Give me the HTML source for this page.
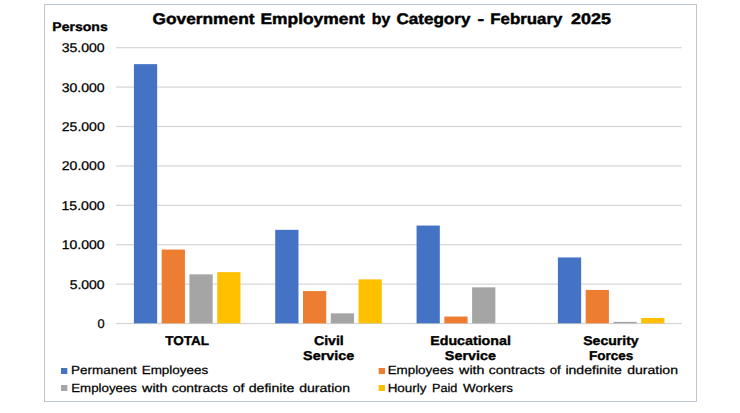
<!DOCTYPE html>
<html><head><meta charset="utf-8"><style>
html,body{margin:0;padding:0;background:#fff;width:740px;height:413px;overflow:hidden}
svg{display:block;font-family:"Liberation Sans", sans-serif}
text{fill:#000;text-rendering:geometricPrecision}
</style></head><body>
<svg width="740" height="413" viewBox="0 0 740 413">
<rect x="0" y="0" width="740" height="413" fill="#ffffff"/>
<rect x="44.5" y="4.5" width="652" height="397" fill="none" stroke="#BDC5CE" stroke-width="1"/>
<rect x="116" y="322.95" width="565.8" height="1.2" fill="#D3D3D3"/>
<rect x="116" y="283.54" width="565.8" height="1.2" fill="#D5D5D5"/>
<rect x="116" y="244.13" width="565.8" height="1.2" fill="#D5D5D5"/>
<rect x="116" y="204.72" width="565.8" height="1.2" fill="#D5D5D5"/>
<rect x="116" y="165.31" width="565.8" height="1.2" fill="#D5D5D5"/>
<rect x="116" y="125.90" width="565.8" height="1.2" fill="#D5D5D5"/>
<rect x="116" y="86.49" width="565.8" height="1.2" fill="#D5D5D5"/>
<rect x="116" y="47.08" width="565.8" height="1.2" fill="#D5D5D5"/>
<rect x="133.90" y="64.15" width="23.25" height="259.15" fill="#4472C4"/>
<rect x="161.67" y="249.55" width="23.25" height="73.75" fill="#ED7D31"/>
<rect x="189.44" y="274.35" width="23.25" height="48.95" fill="#A5A5A5"/>
<rect x="217.21" y="272.15" width="23.25" height="51.15" fill="#FFC000"/>
<rect x="275.23" y="229.85" width="23.25" height="93.45" fill="#4472C4"/>
<rect x="303.00" y="291.05" width="23.25" height="32.25" fill="#ED7D31"/>
<rect x="330.77" y="313.35" width="23.25" height="9.95" fill="#A5A5A5"/>
<rect x="358.54" y="279.35" width="23.25" height="43.95" fill="#FFC000"/>
<rect x="416.56" y="225.55" width="23.25" height="97.75" fill="#4472C4"/>
<rect x="444.33" y="316.55" width="23.25" height="6.75" fill="#ED7D31"/>
<rect x="472.10" y="287.35" width="23.25" height="35.95" fill="#A5A5A5"/>
<rect x="557.89" y="257.45" width="23.25" height="65.85" fill="#4472C4"/>
<rect x="585.66" y="289.95" width="23.25" height="33.35" fill="#ED7D31"/>
<rect x="613.43" y="321.85" width="23.25" height="1.45" fill="#A5A5A5"/>
<rect x="641.20" y="317.95" width="23.25" height="5.35" fill="#FFC000"/>
<rect x="61" y="368" width="6.3" height="6" fill="#4472C4"/>
<rect x="61" y="385" width="6.3" height="6" fill="#A5A5A5"/>
<rect x="378.7" y="368" width="6.3" height="6" fill="#ED7D31"/>
<rect x="378.7" y="385" width="6.3" height="6" fill="#FFC000"/>
<text x="152.50" y="24.00" font-size="15.3" font-weight="bold" stroke="#000" stroke-width="0.45" textLength="101.99" lengthAdjust="spacingAndGlyphs">Government</text>
<text x="260.53" y="24.00" font-size="15.3" font-weight="bold" stroke="#000" stroke-width="0.45" textLength="104.29" lengthAdjust="spacingAndGlyphs">Employment</text>
<text x="371.77" y="24.00" font-size="15.3" font-weight="bold" stroke="#000" stroke-width="0.45" textLength="18.47" lengthAdjust="spacingAndGlyphs">by</text>
<text x="396.54" y="24.00" font-size="15.3" font-weight="bold" stroke="#000" stroke-width="0.45" textLength="73.86" lengthAdjust="spacingAndGlyphs">Category</text>
<text x="477.60" y="24.00" font-size="15.3" font-weight="bold" stroke="#000" stroke-width="0.45" textLength="6.68" lengthAdjust="spacingAndGlyphs">-</text>
<text x="490.32" y="24.00" font-size="15.3" font-weight="bold" stroke="#000" stroke-width="0.45" textLength="71.99" lengthAdjust="spacingAndGlyphs">February</text>
<text x="571.03" y="24.00" font-size="15.3" font-weight="bold" stroke="#000" stroke-width="0.45" textLength="39.90" lengthAdjust="spacingAndGlyphs">2025</text>
<text x="52.33" y="31.00" font-size="12.4" font-weight="bold" stroke="#000" stroke-width="0.35" textLength="55.39" lengthAdjust="spacingAndGlyphs">Persons</text>
<text x="97.54" y="327.95" font-size="12.6" stroke="#000" stroke-width="0.25" textLength="7.13" lengthAdjust="spacingAndGlyphs">0</text>
<text x="69.73" y="288.80" font-size="12.6" stroke="#000" stroke-width="0.25" textLength="34.91" lengthAdjust="spacingAndGlyphs">5.000</text>
<text x="61.77" y="249.10" font-size="12.6" stroke="#000" stroke-width="0.25" textLength="42.83" lengthAdjust="spacingAndGlyphs">10.000</text>
<text x="61.41" y="209.75" font-size="12.6" stroke="#000" stroke-width="0.25" textLength="43.26" lengthAdjust="spacingAndGlyphs">15.000</text>
<text x="61.79" y="170.10" font-size="12.6" stroke="#000" stroke-width="0.25" textLength="42.96" lengthAdjust="spacingAndGlyphs">20.000</text>
<text x="61.79" y="130.75" font-size="12.6" stroke="#000" stroke-width="0.25" textLength="42.96" lengthAdjust="spacingAndGlyphs">25.000</text>
<text x="61.68" y="91.60" font-size="12.6" stroke="#000" stroke-width="0.25" textLength="43.03" lengthAdjust="spacingAndGlyphs">30.000</text>
<text x="61.68" y="51.70" font-size="12.6" stroke="#000" stroke-width="0.25" textLength="43.03" lengthAdjust="spacingAndGlyphs">35.000</text>
<text x="165.27" y="345.00" font-size="12.8" font-weight="bold" stroke="#000" stroke-width="0.35" textLength="43.81" lengthAdjust="spacingAndGlyphs">TOTAL</text>
<text x="313.98" y="345.00" font-size="12.8" font-weight="bold" stroke="#000" stroke-width="0.35" textLength="29.79" lengthAdjust="spacingAndGlyphs">Civil</text>
<text x="303.13" y="360.00" font-size="12.8" font-weight="bold" stroke="#000" stroke-width="0.35" textLength="51.14" lengthAdjust="spacingAndGlyphs">Service</text>
<text x="430.28" y="345.00" font-size="12.8" font-weight="bold" stroke="#000" stroke-width="0.35" textLength="80.59" lengthAdjust="spacingAndGlyphs">Educational</text>
<text x="444.89" y="360.00" font-size="12.8" font-weight="bold" stroke="#000" stroke-width="0.35" textLength="51.02" lengthAdjust="spacingAndGlyphs">Service</text>
<text x="583.21" y="345.00" font-size="12.8" font-weight="bold" stroke="#000" stroke-width="0.35" textLength="55.43" lengthAdjust="spacingAndGlyphs">Security</text>
<text x="588.91" y="360.00" font-size="12.8" font-weight="bold" stroke="#000" stroke-width="0.35" textLength="44.35" lengthAdjust="spacingAndGlyphs">Forces</text>
<text x="71.05" y="374.20" font-size="11.8" stroke="#000" stroke-width="0.25" textLength="65.83" lengthAdjust="spacingAndGlyphs">Permanent</text>
<text x="141.66" y="374.20" font-size="11.8" stroke="#000" stroke-width="0.25" textLength="66.55" lengthAdjust="spacingAndGlyphs">Employees</text>
<text x="71.22" y="391.60" font-size="11.8" stroke="#000" stroke-width="0.25" textLength="65.80" lengthAdjust="spacingAndGlyphs">Employees</text>
<text x="142.11" y="391.60" font-size="11.8" stroke="#000" stroke-width="0.25" textLength="25.39" lengthAdjust="spacingAndGlyphs">with</text>
<text x="171.72" y="391.60" font-size="11.8" stroke="#000" stroke-width="0.25" textLength="56.13" lengthAdjust="spacingAndGlyphs">contracts</text>
<text x="232.81" y="391.60" font-size="11.8" stroke="#000" stroke-width="0.25" textLength="11.66" lengthAdjust="spacingAndGlyphs">of</text>
<text x="248.67" y="391.60" font-size="11.8" stroke="#000" stroke-width="0.25" textLength="45.67" lengthAdjust="spacingAndGlyphs">definite</text>
<text x="299.18" y="391.60" font-size="11.8" stroke="#000" stroke-width="0.25" textLength="50.81" lengthAdjust="spacingAndGlyphs">duration</text>
<text x="387.67" y="374.20" font-size="11.8" stroke="#000" stroke-width="0.25" textLength="66.11" lengthAdjust="spacingAndGlyphs">Employees</text>
<text x="459.11" y="374.20" font-size="11.8" stroke="#000" stroke-width="0.25" textLength="25.39" lengthAdjust="spacingAndGlyphs">with</text>
<text x="488.73" y="374.20" font-size="11.8" stroke="#000" stroke-width="0.25" textLength="56.20" lengthAdjust="spacingAndGlyphs">contracts</text>
<text x="549.74" y="374.20" font-size="11.8" stroke="#000" stroke-width="0.25" textLength="11.01" lengthAdjust="spacingAndGlyphs">of</text>
<text x="565.41" y="374.20" font-size="11.8" stroke="#000" stroke-width="0.25" textLength="56.42" lengthAdjust="spacingAndGlyphs">indefinite</text>
<text x="627.18" y="374.20" font-size="11.8" stroke="#000" stroke-width="0.25" textLength="50.81" lengthAdjust="spacingAndGlyphs">duration</text>
<text x="387.66" y="391.60" font-size="11.8" stroke="#000" stroke-width="0.25" textLength="38.84" lengthAdjust="spacingAndGlyphs">Hourly</text>
<text x="432.06" y="391.60" font-size="11.8" stroke="#000" stroke-width="0.25" textLength="25.32" lengthAdjust="spacingAndGlyphs">Paid</text>
<text x="463.06" y="391.60" font-size="11.8" stroke="#000" stroke-width="0.25" textLength="49.84" lengthAdjust="spacingAndGlyphs">Workers</text>
</svg>
</body></html>
